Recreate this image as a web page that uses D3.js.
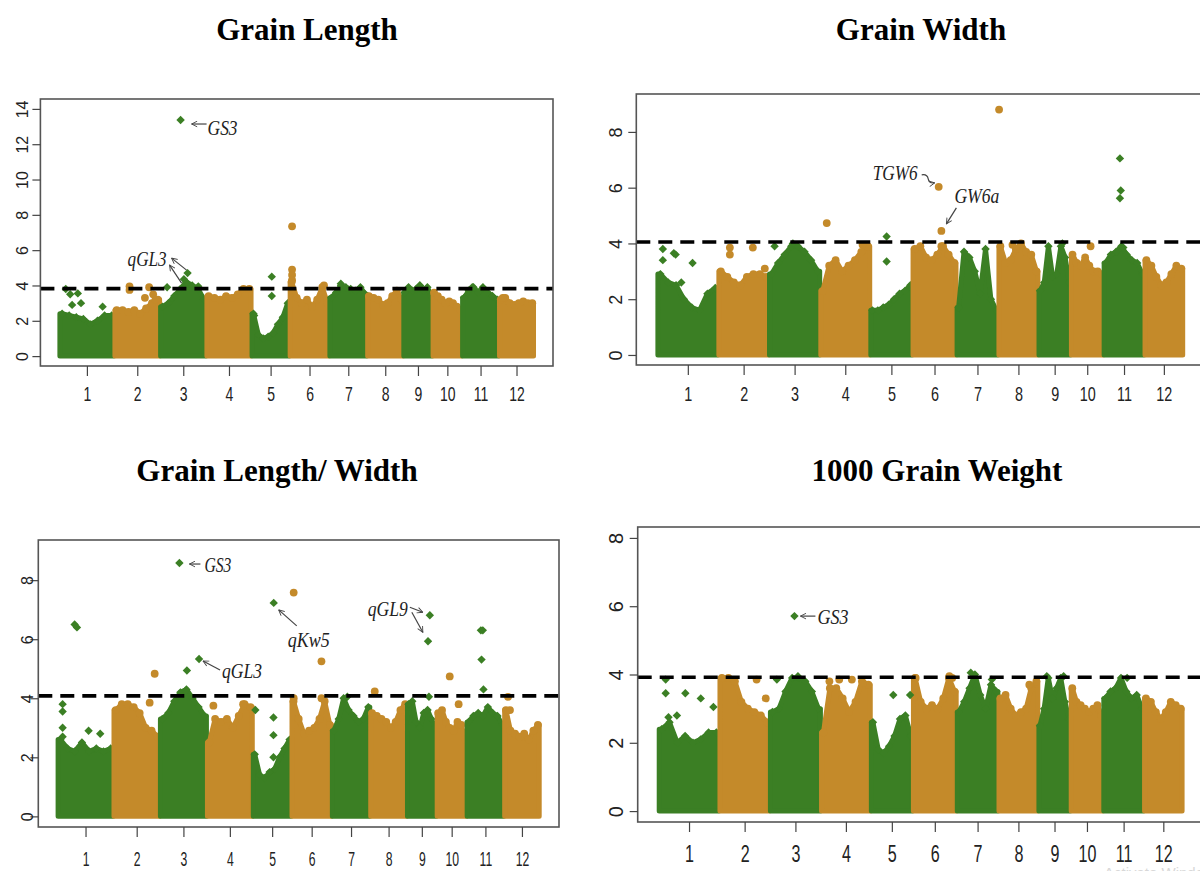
<!DOCTYPE html>
<html lang="en">
<head>
<meta charset="UTF-8">
<title>GWAS Manhattan plots - grain traits</title>
<script src="https://d3js.org/d3.v7.min.js"></script>
<style>
  body { margin: 0; background: #fff; }
  svg { display: block; }
  .title { font-family: "Liberation Serif", "Times New Roman", serif; font-weight: bold; font-size: 31px; text-anchor: middle; fill: #000; }
  .gene { font-family: "Liberation Serif", "Times New Roman", serif; font-style: italic; fill: #222; }
  .axis text { font-family: "Liberation Sans", Arial, sans-serif; fill: #222; }
  .axis line { stroke: #444; stroke-width: 1.2; }
</style>
</head>
<body>
<svg width="1200" height="871"></svg>
<script>
// rice chromosomes and their lengths (Mb)
const chromosomes = ["1", "2", "3", "4", "5", "6", "7", "8", "9", "10", "11", "12"];
const chrLengths = [43.27, 35.94, 36.41, 35.50, 29.96, 31.25, 29.70, 28.44, 23.01, 23.21, 29.02, 27.53];

const traitTitles = ["Grain Length", "Grain Width", "Grain Length/ Width", "1000 Grain Weight"];
const yMax = [14, 9, 9, 8];
const yTickValues = [[0, 2, 4, 6, 8, 10, 12, 14], [0, 2, 4, 6, 8], [0, 2, 4, 6, 8], [0, 2, 4, 6, 8]];
const thresholds = [3.82, 4.05, 4.08, 3.92];

// top of the dense SNP cloud, 8 evenly spaced bins per chromosome (-log10 p)
const glCloud = [
  [2.4, 2.3, 2.2, 2.1, 1.8, 2.0, 2.3, 2.3],
  [2.6, 2.6, 2.5, 2.6, 2.4, 2.7, 3.0, 3.2],
  [2.8, 3.0, 3.4, 3.8, 4.2, 4.0, 3.8, 3.2],
  [3.4, 3.3, 3.2, 3.4, 3.3, 3.5, 3.8, 3.8],
  [2.4, 1.2, 1.0, 1.1, 1.3, 1.8, 2.2, 3.0],
  [4.2, 3.3, 3.0, 3.2, 2.8, 3.2, 3.9, 3.0],
  [3.3, 3.6, 4.0, 3.9, 3.8, 3.7, 3.9, 3.5],
  [3.4, 3.3, 3.2, 2.9, 3.0, 3.4, 3.7, 3.2],
  [3.6, 3.9, 3.7, 3.8, 4.0, 3.7, 3.9, 3.4],
  [3.6, 3.4, 3.2, 3.0, 3.1, 3.0, 2.8, 2.6],
  [3.3, 3.7, 3.9, 3.6, 3.9, 3.6, 3.4, 3.2],
  [3.2, 3.3, 3.0, 2.9, 3.0, 3.1, 3.0, 3.0]
];
const gwCloud = [
  [2.9, 2.6, 2.5, 2.0, 1.7, 1.6, 2.2, 2.4],
  [3.0, 2.8, 2.6, 2.5, 2.8, 2.9, 2.9, 2.8],
  [2.9, 3.3, 3.6, 3.9, 3.9, 3.7, 3.4, 3.0],
  [2.3, 3.2, 3.4, 3.0, 3.2, 3.4, 3.7, 3.9],
  [1.6, 1.6, 1.7, 1.8, 2.0, 2.2, 2.3, 2.5],
  [3.8, 3.9, 3.5, 3.4, 3.6, 3.9, 3.6, 3.3],
  [1.7, 3.7, 3.5, 3.0, 2.2, 3.8, 2.0, 1.6],
  [3.9, 3.3, 3.4, 3.8, 4.0, 3.7, 3.6, 3.0],
  [2.3, 2.6, 3.9, 2.8, 2.9, 3.9, 3.5, 2.6],
  [3.6, 3.3, 3.2, 3.5, 3.2, 3.0, 3.0, 2.9],
  [3.3, 3.6, 3.7, 3.9, 3.6, 3.4, 3.3, 2.9],
  [3.4, 3.2, 2.8, 2.5, 2.6, 2.9, 3.2, 3.1]
];
const lwCloud = [
  [2.6, 2.3, 2.2, 2.5, 2.2, 2.3, 2.2, 2.3],
  [3.6, 3.8, 3.8, 3.7, 3.5, 3.0, 2.9, 2.7],
  [3.3, 3.5, 3.9, 4.2, 4.3, 4.0, 3.7, 3.4],
  [2.5, 3.3, 3.2, 3.3, 3.0, 3.4, 3.8, 3.7],
  [2.1, 1.4, 1.3, 1.5, 1.6, 2.0, 2.3, 2.6],
  [3.9, 3.3, 2.8, 2.9, 3.0, 3.3, 3.9, 3.1],
  [2.9, 3.3, 4.0, 3.6, 3.4, 3.2, 3.3, 3.7],
  [3.5, 3.4, 3.3, 3.2, 3.0, 3.2, 3.6, 3.8],
  [3.8, 3.9, 3.2, 3.0, 3.5, 3.6, 3.3, 3.0],
  [3.5, 3.6, 3.2, 3.0, 2.9, 3.2, 3.1, 2.6],
  [3.2, 3.4, 3.5, 3.4, 3.7, 3.5, 3.4, 3.1],
  [3.6, 2.9, 2.8, 2.7, 2.8, 2.6, 2.9, 3.1]
];
const tgwCloud = [
  [2.4, 2.6, 2.0, 2.2, 2.0, 2.1, 2.3, 2.3],
  [3.9, 3.9, 3.8, 3.2, 3.0, 2.9, 2.8, 2.6],
  [2.9, 3.0, 3.5, 3.9, 3.9, 3.8, 3.5, 3.0],
  [2.3, 3.6, 3.6, 3.3, 2.9, 3.2, 3.8, 3.7],
  [2.6, 1.8, 1.7, 1.9, 2.2, 2.7, 2.8, 2.2],
  [3.9, 3.2, 3.0, 3.1, 3.0, 3.3, 3.9, 3.5],
  [2.9, 3.2, 3.6, 4.0, 3.4, 3.0, 3.7, 3.5],
  [3.3, 3.4, 3.0, 2.8, 2.9, 3.0, 3.6, 3.8],
  [2.5, 3.0, 3.9, 3.3, 3.6, 3.9, 3.2, 2.7],
  [3.6, 3.2, 3.1, 3.0, 2.9, 3.0, 3.1, 2.8],
  [3.3, 3.5, 3.6, 3.9, 3.5, 3.3, 3.4, 3.0],
  [3.3, 3.2, 2.9, 2.7, 2.9, 3.2, 3.1, 3.0]
];

// single SNPs standing out of the cloud: [chromosome, position (Mb), -log10 p]
const glPoints = [
  [1, 5, 3.8], [1, 8.5, 3.5], [1, 14.5, 3.55], [1, 17, 3.0], [1, 10, 2.9], [1, 34, 2.8],
  [2, 11.9, 3.95], [2, 11.9, 3.75], [2, 24, 3.3], [2, 27.3, 3.9], [2, 30.5, 3.5], [2, 32.3, 3.2],
  [3, 5.5, 3.9], [3, 16.1, 13.37], [3, 18.7, 4.35], [3, 21.6, 4.7], [3, 30, 3.95],
  [5, 15.9, 4.5], [5, 15.9, 3.4], [5, 2, 2.3],
  [6, 1.9, 7.35], [6, 1.9, 4.9], [6, 1.9, 4.6], [6, 1.9, 4.3], [6, 27, 4.0],
  [7, 9, 4.1], [9, 13, 4.0], [11, 8, 3.9], [12, 3, 3.3]
];
const gwPoints = [
  [1, 3.9, 3.8], [1, 3.9, 3.4], [1, 11.7, 3.65], [1, 13, 3.6], [1, 17, 2.6], [1, 25, 3.3],
  [2, 8.2, 3.85], [2, 8.2, 3.6], [2, 24.5, 3.85], [2, 33, 3.1],
  [3, 4, 3.9], [3, 17, 4.0],
  [4, 4.6, 4.73], [4, 30, 3.95],
  [5, 11.6, 4.25], [5, 11.6, 3.35],
  [6, 18.6, 6.03], [6, 20.5, 4.45], [6, 20.5, 3.9],
  [8, 0.5, 8.8], [8, 10, 3.95],
  [9, 17, 4.0], [10, 14, 3.9],
  [11, 11.6, 7.05], [11, 12.2, 5.9], [11, 11.6, 5.62], [11, 14, 3.85]
];
const lwPoints = [
  [1, 3.9, 3.8], [1, 3.9, 3.55], [1, 3.9, 3.0], [1, 3.9, 2.7], [1, 13.2, 6.5], [1, 15, 6.4], [1, 24, 2.9], [1, 33, 2.8],
  [2, 28, 3.85], [2, 31.9, 4.83],
  [3, 15.1, 8.58], [3, 20.9, 4.94], [3, 20, 4.25], [3, 30.3, 5.33],
  [4, 5, 3.75], [4, 28, 3.8],
  [5, 2, 3.6], [5, 16.2, 7.23], [5, 16, 3.35], [5, 16, 2.75], [5, 16, 2.0],
  [6, 1.7, 7.58], [6, 1.7, 4.0], [6, 23.2, 5.25], [6, 23.2, 4.0],
  [7, 12, 4.05], [8, 3.5, 4.23],
  [9, 16.3, 5.93], [9, 17.7, 6.81], [9, 17, 4.05],
  [10, 10.1, 4.74], [10, 17, 3.8],
  [11, 11, 6.3], [11, 12.5, 6.3], [11, 11.5, 5.31], [11, 13, 4.3],
  [12, 3, 4.05], [12, 4.5, 3.6]
];
const tgwPoints = [
  [1, 5, 3.85], [1, 5, 3.45], [1, 7, 2.75], [1, 13, 2.8], [1, 19, 3.45], [1, 30, 3.3], [1, 39, 3.05],
  [2, 26.5, 3.85], [2, 33, 3.3],
  [3, 5, 3.85], [3, 17.5, 5.71], [3, 20, 3.95],
  [4, 6, 3.8], [4, 13, 3.85], [4, 22, 3.85], [4, 30, 3.75],
  [5, 16, 3.4], [5, 28, 3.4],
  [6, 2, 3.9], [6, 26, 3.95], [6, 28, 3.9],
  [7, 10, 4.05], [7, 25, 3.85], [8, 22, 3.7],
  [9, 6, 3.95], [9, 18, 3.95], [11, 17, 3.9]
];

// annotated loci: [name, chromosome, position (Mb), -log10 p]
const glGenes = [["GS3", 3, 16.1, 13.37], ["qGL3", 3, 21.6, 4.7]];
const gwGenes = [["TGW6", 6, 18.6, 6.03], ["GW6a", 6, 20.5, 4.45]];
const lwGenes = [["GS3", 3, 15.1, 8.58], ["qKw5", 5, 16.2, 7.23], ["qGL3", 3, 30.3, 5.33], ["qGL9", 9, 17.7, 6.81]];
const tgwGenes = [["GS3", 3, 17.5, 5.71]];

const traits = [
  { cloud: glCloud, points: glPoints, genes: glGenes },
  { cloud: gwCloud, points: gwPoints, genes: gwGenes },
  { cloud: lwCloud, points: lwPoints, genes: lwGenes },
  { cloud: tgwCloud, points: tgwPoints, genes: tgwGenes }
];

// page layout for each panel
const layouts = [
  { box: [40.4, 99, 553, 366], titleX: 307, titleY: 40, yLab: 18, yFont: 16, xFont: 20, xScale: 0.7, xBase: 401, geneFont: 21,
    labels: {
      GS3: { tx: 27, ty: 15, w: 30, arrows: [[26, 4, 11, 4]] },
      qGL3: { tx: -60, ty: -7, w: 39, arrows: [[-1, -3, -16, -15], [-6, 10, -18, -8]] }
    } },
  { box: [636.3, 94, 1204.3, 365], titleX: 921, titleY: 40, yLab: 21, yFont: 18, xFont: 20, xScale: 0.72, xBase: 401, geneFont: 22,
    labels: {
      TGW6: { tx: -66, ty: -7, w: 45, arrows: [[-17, -12, -4, -4, 1]] },
      GW6a: { tx: 13, ty: -28, w: 45, arrows: [[15, -23, 5, -7]] }
    } },
  { box: [38.3, 540, 559, 827], titleX: 277, titleY: 481, yLab: 11, yFont: 16, xFont: 21, xScale: 0.58, xBase: 866, geneFont: 22,
    labels: {
      GS3: { tx: 25, ty: 9, w: 27, arrows: [[21, 1, 10, 1]] },
      qKw5: { tx: 14, ty: 44, w: 42, arrows: [[23, 23, 5, 7]] },
      qGL3: { tx: 23, ty: 19, w: 40, arrows: [[21, 11, 4, 2]] },
      qGL9: { tx: -62, ty: 1, w: 40, arrows: [[-20, -8, -7, -3], [-18, -3, -7, 17]] }
    } },
  { box: [637.7, 527, 1203.6, 822], titleX: 937, titleY: 481, yLab: 22, yFont: 20, xFont: 23, xScale: 0.7, xBase: 862, geneFont: 22,
    labels: {
      GS3: { tx: 23, ty: 8, w: 31, arrows: [[21, 0, 6, 0]] }
    } }
];

const green = "#3b7f24";
const orange = "#c48a2a";
const diamond = "M0,-4.2L4.2,0L0,4.2L-4.2,0Z";

const svg = d3.select("svg");

svg.append("defs").append("marker")
    .attr("id", "head")
    .attr("viewBox", "0 0 10 10")
    .attr("refX", 9)
    .attr("refY", 5)
    .attr("markerWidth", 7)
    .attr("markerHeight", 7)
    .attr("markerUnits", "userSpaceOnUse")
    .attr("orient", "auto")
    .append("path")
    .attr("d", "M1,1L9,5L1,9")
    .attr("fill", "none")
    .attr("stroke", "#444")
    .attr("stroke-width", 1.3);

const starts = chrLengths.map((d, i) => d3.sum(chrLengths.slice(0, i)));
const mids = starts.map((s, i) => s + chrLengths[i] / 2);
const genomeLen = d3.sum(chrLengths);

function drawMarker(g, cx, cy, chrIdx) {
    if (chrIdx % 2 === 0) {
        g.append("path").attr("d", diamond)
            .attr("transform", `translate(${cx},${cy})`)
            .attr("fill", green);
    } else {
        g.append("circle").attr("cx", cx).attr("cy", cy).attr("r", 3.9)
            .attr("fill", orange);
    }
}

traits.forEach((t, k) => {
    const lay = layouts[k];
    const [left, top, right, bottom] = lay.box;
    const pad = genomeLen * 0.04;
    const x = d3.scaleLinear().domain([-pad, genomeLen + pad]).range([left, right]);
    const y = d3.scaleLinear().domain([-0.04 * yMax[k], 1.04 * yMax[k]]).range([bottom, top]);

    svg.append("text").attr("class", "title")
        .attr("x", lay.titleX).attr("y", lay.titleY)
        .text(traitTitles[k]);

    const g = svg.append("g");

    // dense cloud of markers per chromosome
    const area = d3.area()
        .x(d => x(d[0]))
        .y0(y(0))
        .y1(d => y(d[1]));

    t.cloud.forEach((vals, i) => {
        const n = vals.length;
        const col = i % 2 === 0 ? green : orange;
        const pts = vals.map((v, j) => [starts[i] + chrLengths[i] * (0.05 + 0.9 * j / (n - 1)), v]);
        const full = [[starts[i] + 0.4, vals[0]], ...pts, [starts[i] + chrLengths[i] - 0.4, vals[n - 1]]];
        g.append("path")
            .attr("d", area(full))
            .attr("fill", col)
            .attr("stroke", col)
            .attr("stroke-width", 5)
            .attr("stroke-linejoin", "round");
        pts.forEach(p => drawMarker(g, x(p[0]), y(p[1]), i));
    });

    t.points.forEach(p => {
        drawMarker(g, x(starts[p[0] - 1] + p[1]), y(p[2]), p[0] - 1);
    });

    // significance threshold
    svg.append("line")
        .attr("x1", left).attr("x2", right)
        .attr("y1", y(thresholds[k])).attr("y2", y(thresholds[k]))
        .attr("stroke", "#000")
        .attr("stroke-width", 3.6)
        .attr("stroke-dasharray", "14 8");

    // frame
    svg.append("rect")
        .attr("x", left).attr("y", top)
        .attr("width", right - left).attr("height", bottom - top)
        .attr("fill", "none")
        .attr("stroke", "#555")
        .attr("stroke-width", 1.6);

    // x axis
    const xAxis = svg.append("g").attr("class", "axis")
        .attr("transform", `translate(0,${bottom})`)
        .call(d3.axisBottom(x).tickValues(mids).tickFormat((d, i) => chromosomes[i]).tickSize(10).tickSizeOuter(0));
    xAxis.select(".domain").remove();
    xAxis.selectAll("text")
        .attr("y", lay.xBase - bottom)
        .attr("dy", null)
        .style("font-size", lay.xFont + "px")
        .attr("transform", `scale(${lay.xScale},1)`);

    // y axis, R style rotated labels
    const yAxis = svg.append("g").attr("class", "axis")
        .attr("transform", `translate(${left},0)`)
        .call(d3.axisLeft(y).tickValues(yTickValues[k]).tickSize(8).tickSizeOuter(0));
    yAxis.select(".domain").remove();
    yAxis.selectAll("text")
        .attr("x", null)
        .attr("dy", "0.36em")
        .attr("text-anchor", "middle")
        .style("font-size", lay.yFont + "px")
        .attr("transform", `translate(${-lay.yLab},0) rotate(-90)`);

    // gene annotations
    t.genes.forEach(gn => {
        const [name, chr, pos, val] = gn;
        const px = x(starts[chr - 1] + pos), py = y(val);
        const lab = lay.labels[name];
        svg.append("text").attr("class", "gene")
            .attr("x", px + lab.tx).attr("y", py + lab.ty)
            .attr("textLength", lab.w)
            .attr("lengthAdjust", "spacingAndGlyphs")
            .style("font-size", lay.geneFont + "px")
            .text(name);
        lab.arrows.forEach(a => {
            const x1 = px + a[0], y1 = py + a[1], x2 = px + a[2], y2 = py + a[3];
            let d = `M${x1},${y1}L${x2},${y2}`;
            if (a[4]) {
                const mx = (x1 + x2) / 2, my = (y1 + y2) / 2;
                d = `M${x1},${y1}Q${mx - 1},${my - 5} ${mx},${my}T${x2},${y2}`;
            }
            svg.append("path")
                .attr("d", d)
                .attr("fill", "none")
                .attr("stroke", "#444")
                .attr("stroke-width", 1.2)
                .attr("marker-end", "url(#head)");
        });
    });
});

// faint screen watermark along the bottom edge of the source image
svg.append("text")
    .attr("x", 1104).attr("y", 878)
    .style("font-family", "\"Liberation Sans\", Arial, sans-serif")
    .style("font-size", "15px")
    .attr("fill", "#d8d8d8")
    .text("Activate Windows");
</script>
</body>
</html>
